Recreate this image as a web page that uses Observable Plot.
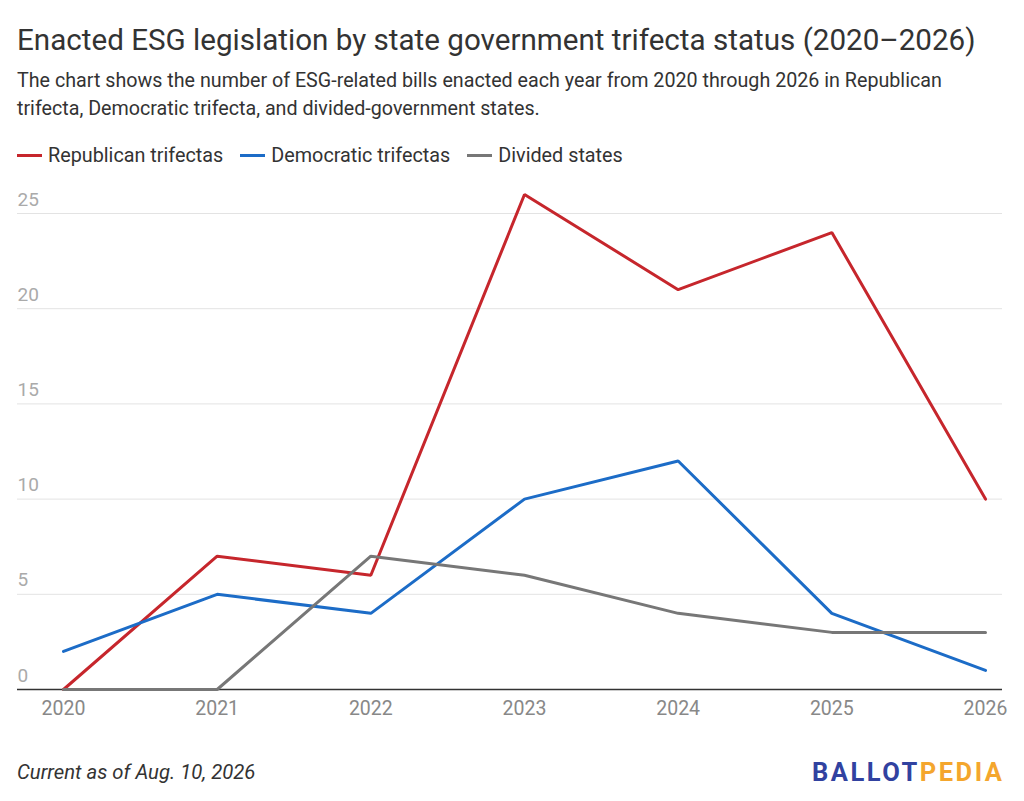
<!DOCTYPE html>
<html>
<head>
<meta charset="utf-8">
<script src="https://cdn.jsdelivr.net/npm/d3@7"></script>
<script src="https://cdn.jsdelivr.net/npm/@observablehq/plot@0.6"></script>
<style>
  body { margin: 0; background: #fff; font-family: Roboto, "Noto Sans", sans-serif; color: #333; }
  #wrap { width: 1024px; }
  .pad { padding: 0 22px 0 17px; }
  h1 { font-size: 29.6px; font-weight: 400; margin: 21px 0 0; line-height: 38px; color: #333; }
  .sub { font-size: 19.7px; line-height: 28px; margin: 8px 0 0; color: #333; }
  .legend { display: flex; align-items: center; margin-top: 20px; height: 24px; font-size: 19.8px; color: #333; }
  .legend .item { display: flex; align-items: center; margin-right: 17px; }
  .legend .sw { width: 25px; height: 3px; margin-right: 6px; }
  #chart { margin-top: 8px; height: 554px; }
  .foot { display: flex; justify-content: space-between; align-items: center; margin-top: 31px; height: 24px; }
  .cap { font-style: italic; font-size: 20.3px; color: #333; }
  .logo { font-weight: 700; font-size: 25.5px; letter-spacing: 2.5px; margin-right: -2.5px; }
</style>
</head>
<body>
<div id="wrap">
  <div class="pad">
    <h1>Enacted ESG legislation by state government trifecta status (2020–2026)</h1>
    <p class="sub">The chart shows the number of ESG-related bills enacted each year from 2020 through 2026 in Republican trifecta, Democratic trifecta, and divided-government states.</p>
    <div class="legend" id="legend"></div>
  </div>
  <div id="chart"></div>
  <div class="pad foot">
    <span class="cap">Current as of Aug. 10, 2026</span>
    <span class="logo"><span style="color:#3142a0">BALLOT</span><span style="color:#f4a62d">PEDIA</span></span>
  </div>
</div>
<script>
const years = [2020, 2021, 2022, 2023, 2024, 2025, 2026];
const seriesNames = ["Republican trifectas", "Democratic trifectas", "Divided states"];
const seriesColors = ["#c6262c", "#1c6cc7", "#777777"];
const republican = [0, 7, 6, 26, 21, 24, 10];
const democratic = [2, 5, 4, 10, 12, 4, 1];
const divided = [0, 0, 7, 6, 4, 3, 3];
const yTicks = [0, 5, 10, 15, 20, 25];

const seriesValues = [republican, democratic, divided];
const data = [];
seriesNames.forEach((name, i) => {
  years.forEach((yr, j) => data.push({series: name, year: yr, value: seriesValues[i][j]}));
});

const legend = document.getElementById("legend");
seriesNames.forEach((name, i) => {
  const item = document.createElement("div");
  item.className = "item";
  item.innerHTML = `<span class="sw" style="background:${seriesColors[i]}"></span><span>${name}</span>`;
  legend.appendChild(item);
});

const chart = Plot.plot({
  width: 1024,
  height: 554,
  marginLeft: 17,
  marginRight: 22,
  marginTop: 38,
  marginBottom: 40,
  style: {fontFamily: "Roboto, sans-serif", background: "#fff", overflow: "visible"},
  x: {type: "linear", domain: [2020, 2026], insetLeft: 46, insetRight: 17},
  y: {domain: [0, 25]},
  color: {domain: seriesNames, range: seriesColors},
  marks: [
    Plot.ruleY(yTicks.filter(d => d > 0), {stroke: "#e3e3e3", strokeWidth: 1}),
    Plot.ruleY([0], {stroke: "#333", strokeWidth: 1.3}),
    Plot.line(data, {x: "year", y: "value", z: "series", stroke: "series", strokeWidth: 3, strokeLinejoin: "miter"}),
    Plot.axisY(yTicks, {tickSize: 0, tickPadding: 0, textAnchor: "start", dy: -14, fontSize: 19, fill: "#aaa", label: null}),
    Plot.axisX(years, {tickSize: 0, tickPadding: 12, fontSize: 19.5, fill: "#888", label: null, tickFormat: d => String(d)})
  ]
});
document.getElementById("chart").appendChild(chart);
</script>
</body>
</html>
